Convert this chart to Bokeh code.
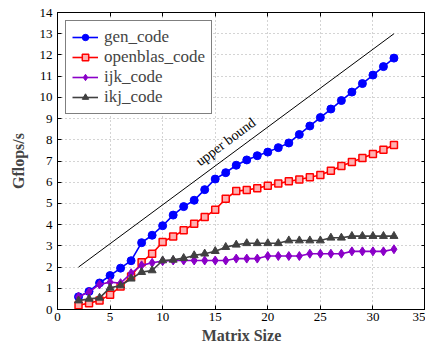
from bokeh.plotting import figure
from bokeh.models import LinearAxis, Range1d, FixedTicker, Legend, LegendItem, Label
from bokeh.embed import file_html
from bokeh.resources import INLINE
import math

sizes = list(range(2, 33))
gen_code = [0.6, 0.85, 1.25, 1.6, 1.95, 2.3, 3.15, 3.5, 3.95, 4.45, 4.85, 5.15, 5.65, 6.15, 6.45,
            6.8, 7.05, 7.25, 7.42, 7.63, 7.85, 8.25, 8.65, 9.05, 9.45, 9.85, 10.25, 10.65, 11.05, 11.45, 11.85]
openblas_code = [0.2, 0.3, 0.42, 0.7, 1.08, 1.56, 2.23, 2.63, 3.18, 3.44, 3.73, 4.04, 4.36, 4.7, 5.22,
                 5.58, 5.63, 5.72, 5.83, 5.94, 6.04, 6.13, 6.23, 6.34, 6.54, 6.76, 6.95, 7.14, 7.33, 7.53, 7.75]
ijk_code = [0.6, 0.82, 1.18, 1.29, 1.24, 1.71, 2.08, 2.2, 2.28, 2.31, 2.31, 2.31, 2.31, 2.31, 2.31,
            2.4, 2.4, 2.4, 2.52, 2.52, 2.52, 2.52, 2.63, 2.63, 2.63, 2.63, 2.74, 2.74, 2.74, 2.74, 2.84]
ikj_code = [0.42, 0.5, 0.55, 1.02, 1.13, 1.45, 1.76, 1.84, 2.31, 2.34, 2.42, 2.55, 2.63, 2.75, 2.94,
            3.05, 3.12, 3.12, 3.12, 3.12, 3.25, 3.25, 3.25, 3.25, 3.38, 3.38, 3.46, 3.46, 3.46, 3.46, 3.46]
bound_x = [2, 32]
bound_y = [2, 13]
x_ticks = [0, 5, 10, 15, 20, 25, 30, 35]
y_ticks = list(range(0, 15))

FONT = "Liberation Serif"

W, H = 425, 347
BL, BR, BT, BB = 57, 0, 12, 38
p = figure(width=W, height=H, output_backend="svg", toolbar_location=None,
           x_range=Range1d(0, 35), y_range=Range1d(0, 14),
           min_border_left=BL, min_border_right=BR, min_border_top=BT, min_border_bottom=BB)
p.outline_line_color = "black"
p.outline_line_width = 1
p.background_fill_color = "white"

for ax in (p.xaxis[0], p.yaxis[0]):
    ax.major_tick_in = 4
    ax.major_tick_out = 0
    ax.minor_tick_line_color = None
    ax.major_label_text_font = FONT
    ax.major_label_text_font_size = "13px"
    ax.major_label_text_color = "black"
    ax.axis_label_text_font = FONT
    ax.axis_label_text_font_style = "bold"
    ax.axis_label_text_font_size = "16px"
    ax.axis_line_color = "black"
    ax.major_tick_line_color = "black"
p.xaxis[0].ticker = FixedTicker(ticks=x_ticks)
p.yaxis[0].ticker = FixedTicker(ticks=y_ticks)
p.xaxis[0].axis_label = "Matrix Size"
p.yaxis[0].axis_label = "Gflops/s"
p.xaxis[0].major_label_standoff = 3
p.yaxis[0].major_label_standoff = 5
p.xaxis[0].axis_label_standoff = 3
p.yaxis[0].axis_label_standoff = 10

top = LinearAxis(ticker=FixedTicker(ticks=x_ticks),
                 major_label_overrides={t: "" for t in x_ticks},
                 major_tick_in=4, major_tick_out=0, minor_tick_line_color=None,
                 major_label_standoff=0)
right = LinearAxis(ticker=FixedTicker(ticks=y_ticks),
                   major_label_overrides={t: "" for t in y_ticks},
                   major_tick_in=4, major_tick_out=0, minor_tick_line_color=None,
                   major_label_standoff=0)
p.add_layout(top, "above")
p.add_layout(right, "right")

p.xgrid.ticker = FixedTicker(ticks=x_ticks)
p.ygrid.ticker = FixedTicker(ticks=y_ticks)
for g in (p.xgrid[0], p.ygrid[0]):
    g.grid_line_color = "#a8a8a8"
    g.grid_line_dash = "1 3"
    g.grid_line_width = 1

# upper bound
p.line(bound_x, bound_y, line_color="black", line_width=1)
fw = W - BL - 4
fh = H - BT - BB
ang = math.degrees(math.atan((11 / 30) * (fh / 14) / (fw / 35)))
p.add_layout(Label(x=16.0, y=7.9, text="upper bound", angle=ang, angle_units="deg",
                   text_font=FONT, text_font_size="14px", text_align="center",
                   text_baseline="middle", text_color="black"))

items = []
l1 = p.line(sizes, gen_code, line_color="blue", line_width=1.6)
m1 = p.scatter(sizes, gen_code, marker="circle", size=8, fill_color="blue", line_color="blue")
items.append(LegendItem(label="gen_code", renderers=[l1, m1]))
l2 = p.line(sizes, openblas_code, line_color="red", line_width=1.6)
m2 = p.scatter(sizes, openblas_code, marker="square", size=7, fill_color="#ffb0b0", line_color="red", line_width=1.5)
items.append(LegendItem(label="openblas_code", renderers=[l2, m2]))
l3 = p.line(sizes, ijk_code, line_color="#8a00c8", line_width=1.6)
m3 = p.scatter(sizes, ijk_code, marker="diamond", size=9, fill_color="#8a00c8", line_color="#8a00c8")
items.append(LegendItem(label="ijk_code", renderers=[l3, m3]))
l4 = p.line(sizes, ikj_code, line_color="#404040", line_width=1.6)
m4 = p.scatter(sizes, ikj_code, marker="triangle", size=8, fill_color="#404040", line_color="#404040")
items.append(LegendItem(label="ikj_code", renderers=[l4, m4]))

leg = Legend(items=items)
leg.location = "top_left"
leg.margin = 8
leg.border_line_color = "black"
leg.border_line_width = 1
leg.label_text_font = FONT
leg.label_text_font_size = "17px"
leg.label_height = 16
leg.glyph_height = 16
leg.glyph_width = 26
leg.spacing = 0
leg.padding = 6
leg.label_standoff = 6
leg.background_fill_alpha = 1
p.add_layout(leg)

open("out.html", "w").write(file_html(p, INLINE))
